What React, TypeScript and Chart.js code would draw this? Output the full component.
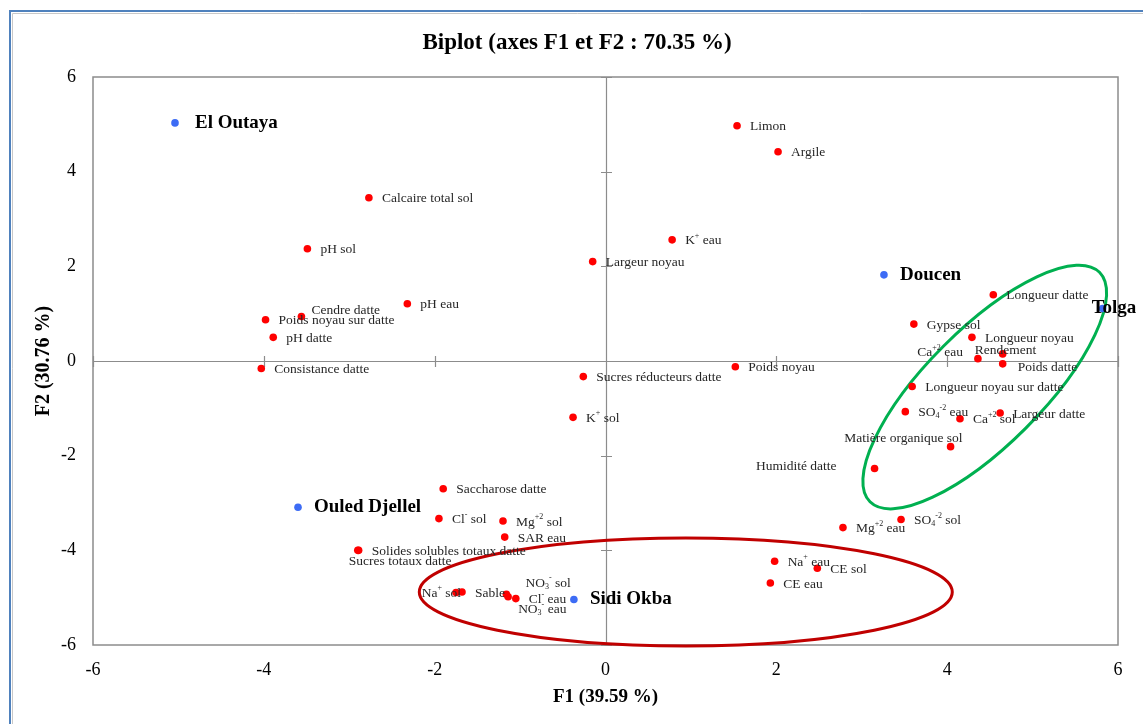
import React, { useEffect, useRef } from "react";
import { Chart, registerables } from "chart.js";

Chart.register(...registerables);

// ---------- data ----------
const obsNames = ["El Outaya", "Doucen", "Tolga", "Ouled Djellel", "Sidi Okba"];
const obsF1 = [-5.04, 3.26, 5.82, -3.6, -0.37];
const obsF2 = [5.03, 1.82, 1.11, -3.09, -5.04];

const varNames = [
  "Limon", "Argile", "Calcaire total sol", "K^{+} eau", "pH sol", "Largeur noyau",
  "pH eau", "Cendre datte", "Poids noyau sur datte", "pH datte", "Consistance datte",
  "Sucres réducteurs datte", "K^{+} sol", "Poids noyau", "Longueur datte", "Gypse sol",
  "Longueur noyau", "Rendement", "Ca^{+2} eau", "Poids datte", "Longueur noyau sur datte",
  "SO_{4}^{-2} eau", "Ca^{+2} sol", "Largeur datte", "Matière organique sol",
  "Humidité datte", "SO_{4}^{-2} sol", "Mg^{+2} eau", "Na^{+} eau", "CE sol", "CE eau",
  "Saccharose datte", "Cl^{-} sol", "Mg^{+2} sol", "SAR eau",
  "Solides solubles totaux datte", "Sucres totaux datte", "Na^{+} sol", "Sable",
  "NO_{3}^{-} sol", "NO_{3}^{-} eau", "Cl^{-} eau",
];
const varF1 = [
  1.54, 2.02, -2.77, 0.78, -3.49, -0.15,
  -2.32, -3.56, -3.98, -3.89, -4.03,
  -0.26, -0.38, 1.52, 4.54, 3.61,
  4.29, 4.65, 4.36, 4.65, 3.59,
  3.51, 4.15, 4.62, 4.04,
  3.15, 3.46, 2.78, 1.98, 2.48, 1.93,
  -1.9, -1.95, -1.2, -1.18,
  -2.89, -2.9, -1.75, -1.68,
  -1.16, -1.14, -1.05,
];
const varF2 = [
  4.97, 4.42, 3.45, 2.56, 2.37, 2.1,
  1.21, 0.94, 0.87, 0.5, -0.16,
  -0.33, -1.19, -0.12, 1.4, 0.78,
  0.5, 0.15, 0.05, -0.06, -0.54,
  -1.07, -1.22, -1.1, -1.81,
  -2.27, -3.35, -3.52, -4.23, -4.38, -4.69,
  -2.7, -3.33, -3.38, -3.72,
  -4.0, -4.0, -4.89, -4.88,
  -4.93, -4.98, -5.02,
];

const tickValues = [-6, -4, -2, 0, 2, 4, 6];

const titleText = "Biplot (axes F1 et F2 : 70.35 %)";
const xTitleText = "F1 (39.59 %)";
const yTitleText = "F2 (30.76 %)";

// ---------- annotation shapes (group ellipses, in F1/F2 units) ----------
const ellipseCenterF1 = [4.44, 0.94];
const ellipseCenterF2 = [-0.55, -4.88];
const ellipseRadiusA = [1.9, 3.12];
const ellipseRadiusB = [0.68, 0.632];
const ellipseAngleDeg = [45, 0];
const ellipseColors = ["#00B050", "#C00000"];

// ---------- label placement (style) ----------
type Place = [number, number, CanvasTextAlign];
const defaultVarPlace: Place = [13, 1, "left"];
const varPlace: Record<string, Place> = {
  "Cendre datte": [10, -6, "left"],
  "Ca^{+2} eau": [-15, -6, "right"],
  Rendement: [-28, -3, "left"],
  "Poids datte": [15, 4, "left"],
  "Matière organique sol": [12, -8, "right"],
  "Humidité datte": [-38, -2, "right"],
  "Sucres totaux datte": [-9, 11, "left"],
  "Na^{+} sol": [5, 1, "right"],
  "NO_{3}^{-} sol": [19, -11, "left"],
  "NO_{3}^{-} eau": [10, 13, "left"],
};
const defaultObsPlace: Place = [16, 0, "left"];
const obsPlace: Record<string, Place> = {
  "El Outaya": [20, 0, "left"],
  Tolga: [-11, 0, "left"],
};

const SERIF = "'Liberation Serif', 'Times New Roman', serif";

type Seg = { t: string; k: "n" | "sup" | "sub" };
function parseRich(s: string): Seg[] {
  const segs: Seg[] = [];
  const re = /(\^|_)\{([^}]*)\}/g;
  let last = 0;
  let m: RegExpExecArray | null;
  while ((m = re.exec(s))) {
    if (m.index > last) segs.push({ t: s.slice(last, m.index), k: "n" });
    segs.push({ t: m[2], k: m[1] === "^" ? "sup" : "sub" });
    last = m.index + m[0].length;
  }
  if (last < s.length) segs.push({ t: s.slice(last), k: "n" });
  return segs;
}

function drawRich(
  ctx: CanvasRenderingContext2D,
  s: string,
  x: number,
  y: number,
  align: CanvasTextAlign,
  size: number,
  bold: boolean,
  color: string
) {
  const segs = parseRich(s);
  const w = bold ? "bold " : "";
  const small = Math.round(size * 0.62);
  const fontFor = (k: string) => `${w}${k === "n" ? size : small}px ${SERIF}`;
  let total = 0;
  for (const sg of segs) {
    ctx.font = fontFor(sg.k);
    total += ctx.measureText(sg.t).width;
  }
  let cx = align === "right" ? x - total : align === "center" ? x - total / 2 : x;
  ctx.fillStyle = color;
  ctx.textAlign = "left";
  ctx.textBaseline = "middle";
  for (const sg of segs) {
    ctx.font = fontFor(sg.k);
    const dy = sg.k === "sup" ? -size * 0.38 : sg.k === "sub" ? size * 0.25 : 0;
    ctx.fillText(sg.t, cx, y + dy);
    cx += ctx.measureText(sg.t).width;
  }
}

const biplotPlugin = {
  id: "biplotDecor",
  beforeDraw(chart: any) {
    const ctx = chart.ctx as CanvasRenderingContext2D;
    ctx.save();
    ctx.fillStyle = "#ffffff";
    ctx.fillRect(0, 0, chart.width, chart.height);
    // outer frame
    ctx.strokeStyle = "#4F81BD";
    ctx.lineWidth = 2;
    ctx.beginPath();
    ctx.moveTo(10, chart.height);
    ctx.lineTo(10, 11);
    ctx.lineTo(chart.width, 11);
    ctx.stroke();
    ctx.strokeStyle = "#C8C8C8";
    ctx.lineWidth = 1;
    ctx.beginPath();
    ctx.moveTo(12.5, chart.height);
    ctx.lineTo(12.5, 13.5);
    ctx.lineTo(chart.width, 13.5);
    ctx.stroke();
    ctx.restore();
  },
  beforeDatasetsDraw(chart: any) {
    const ctx = chart.ctx as CanvasRenderingContext2D;
    const xs = chart.scales.x;
    const ys = chart.scales.y;
    const a = chart.chartArea;
    ctx.save();
    // plot border
    ctx.strokeStyle = "#8C8C8C";
    ctx.lineWidth = 1.5;
    ctx.strokeRect(a.left, a.top, a.right - a.left, a.bottom - a.top);
    // zero axes
    const x0 = Math.round(xs.getPixelForValue(0)) + 0.5;
    const y0 = Math.round(ys.getPixelForValue(0)) + 0.5;
    ctx.strokeStyle = "#8C8C8C";
    ctx.lineWidth = 1.2;
    ctx.beginPath();
    ctx.moveTo(a.left, y0);
    ctx.lineTo(a.right, y0);
    ctx.moveTo(x0, a.top);
    ctx.lineTo(x0, a.bottom);
    for (const v of tickValues) {
      const px = Math.round(xs.getPixelForValue(v)) + 0.5;
      ctx.moveTo(px, y0 - 5.5);
      ctx.lineTo(px, y0 + 5.5);
      const py = Math.round(ys.getPixelForValue(v)) + 0.5;
      ctx.moveTo(x0 - 5.5, py);
      ctx.lineTo(x0 + 5.5, py);
    }
    ctx.stroke();
    // group ellipses
    const unit = xs.getPixelForValue(1) - xs.getPixelForValue(0);
    for (let i = 0; i < ellipseCenterF1.length; i++) {
      ctx.beginPath();
      ctx.ellipse(
        xs.getPixelForValue(ellipseCenterF1[i]),
        ys.getPixelForValue(ellipseCenterF2[i]),
        ellipseRadiusA[i] * unit,
        ellipseRadiusB[i] * unit,
        (-ellipseAngleDeg[i] * Math.PI) / 180,
        0,
        Math.PI * 2
      );
      ctx.strokeStyle = ellipseColors[i];
      ctx.lineWidth = 3;
      ctx.stroke();
    }
    ctx.restore();
  },
  afterDatasetsDraw(chart: any) {
    const ctx = chart.ctx as CanvasRenderingContext2D;
    const xs = chart.scales.x;
    const ys = chart.scales.y;
    ctx.save();
    for (let i = 0; i < varNames.length; i++) {
      const p = varPlace[varNames[i]] || defaultVarPlace;
      drawRich(
        ctx,
        varNames[i],
        xs.getPixelForValue(varF1[i]) + p[0],
        ys.getPixelForValue(varF2[i]) + p[1],
        p[2],
        13.5,
        false,
        "#262626"
      );
    }
    for (let i = 0; i < obsNames.length; i++) {
      const p = obsPlace[obsNames[i]] || defaultObsPlace;
      drawRich(
        ctx,
        obsNames[i],
        xs.getPixelForValue(obsF1[i]) + p[0],
        ys.getPixelForValue(obsF2[i]) + p[1],
        p[2],
        19,
        true,
        "#000000"
      );
    }
    ctx.restore();
  },
  afterDraw(chart: any) {
    const ctx = chart.ctx as CanvasRenderingContext2D;
    const a = chart.chartArea;
    ctx.save();
    ctx.fillStyle = "#000";
    ctx.textAlign = "center";
    ctx.textBaseline = "middle";
    ctx.font = `bold 23px ${SERIF}`;
    ctx.fillText(titleText, 577, 43);
    ctx.font = `bold 19px ${SERIF}`;
    ctx.fillText(xTitleText, (a.left + a.right) / 2, 697);
    ctx.font = `bold 20px ${SERIF}`;
    ctx.translate(44, (a.top + a.bottom) / 2);
    ctx.rotate(-Math.PI / 2);
    ctx.fillText(yTitleText, 0, 0);
    ctx.restore();
  },
};

export default function App() {
  const ref = useRef<HTMLCanvasElement | null>(null);
  useEffect(() => {
    if (!ref.current) return;
    const chart = new Chart(ref.current, {
      type: "scatter",
      data: {
        datasets: [
          {
            label: "Variables",
            data: varF1.map((x, i) => ({ x, y: varF2[i] })),
            pointRadius: 3.8,
            pointBackgroundColor: "#FF0000",
            pointBorderWidth: 0,
            borderColor: "#FF0000",
          },
          {
            label: "Observations",
            data: obsF1.map((x, i) => ({ x, y: obsF2[i] })),
            pointRadius: 3.8,
            pointBackgroundColor: "#3D6CF5",
            pointBorderWidth: 0,
            borderColor: "#3D6CF5",
          },
        ],
      },
      options: {
        animation: false,
        responsive: false,
        devicePixelRatio: 1,
        events: [],
        layout: { padding: { top: 77, right: 25, left: 0, bottom: 0 } },
        plugins: {
          legend: { display: false },
          tooltip: { enabled: false },
          title: { display: false },
        },
        scales: {
          x: {
            type: "linear",
            min: -6,
            max: 6,
            afterBuildTicks: (s: any) => {
              s.ticks = tickValues.map((v) => ({ value: v }));
            },
            afterFit: (s: any) => {
              s.height = 79;
            },
            grid: { display: false, drawTicks: false },
            border: { display: false },
            ticks: {
              padding: 14,
              color: "#000",
              font: { family: SERIF, size: 18 },
            },
          },
          y: {
            type: "linear",
            min: -6,
            max: 6,
            afterBuildTicks: (s: any) => {
              s.ticks = tickValues.map((v) => ({ value: v }));
            },
            afterFit: (s: any) => {
              s.width = 93;
            },
            grid: { display: false, drawTicks: false },
            border: { display: false },
            ticks: {
              padding: 17,
              color: "#000",
              font: { family: SERIF, size: 18 },
            },
          },
        },
      },
      plugins: [biplotPlugin],
    });
    return () => chart.destroy();
  }, []);
  return (
    <div style={{ position: "absolute", left: 0, top: 0, width: 1143, height: 724 }}>
      <canvas ref={ref} width={1143} height={724} style={{ display: "block" }} />
    </div>
  );
}
